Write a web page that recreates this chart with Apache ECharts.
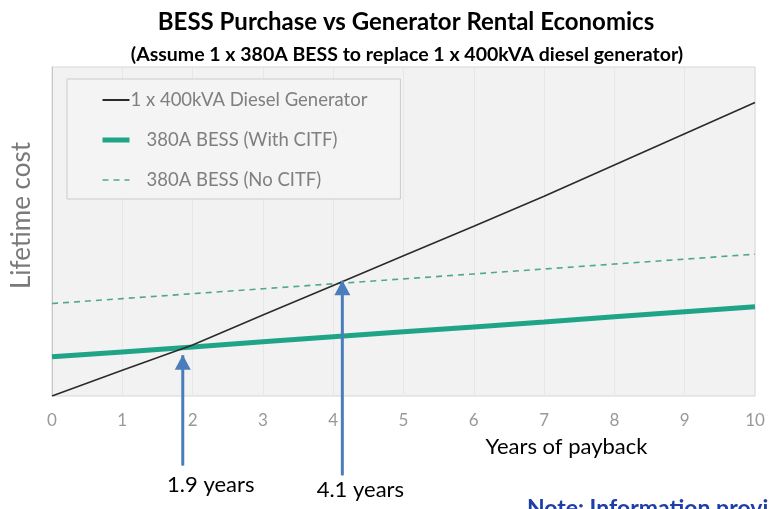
<!DOCTYPE html>
<html>
<head>
<meta charset="utf-8">
<script src="https://cdn.jsdelivr.net/npm/echarts@6/dist/echarts.min.js"></script>
<style>
  html, body { margin: 0; padding: 0; background: #fff; }
  #container { width: 769px; height: 509px; }
</style>
</head>
<body>
<div id="container"></div>
<script>
var dom = document.getElementById("container");
var myChart = echarts.init(dom);

// years of payback (x) and lifetime cost (relative units)
var years = [0, 1, 2, 3, 4, 5, 6, 7, 8, 9, 10];
var dieselCost = [0, 7.8, 15.5, 24.6, 33.6, 42.6, 51.6, 60.7, 70.2, 79.7, 89.2];
var bessCitf = [11.9, 13.4, 14.9, 16.5, 18.0, 19.5, 21.0, 22.5, 24.1, 25.6, 27.1];
var bessNoCitf = [28.1, 29.6, 31.1, 32.6, 34.1, 35.6, 37.1, 38.6, 40.1, 41.6, 43.1];
var seriesNames = ["1 x 400kVA Diesel Generator", "380A BESS (With CITF)", "380A BESS (No CITF)"];

// break-even arrows: x position, arrow tip, arrow tail, label
var arrowX = [1.86, 4.13];
var arrowTip = [12.4, 35.0];
var arrowTail = [-21.1, -24.1];
var arrowLabels = ["1.9 years", "4.1 years"];

function pairs(xs, ys) {
  return xs.map(function (x, i) { return [x, ys[i]]; });
}

var arrowSeries = arrowX.map(function (x, i) {
  return {
    type: "line",
    xAxisIndex: 1,
    yAxisIndex: 1,
    silent: true,
    z: 5,
    lineStyle: { color: "#4a7ebb", width: 3 },
    itemStyle: { color: "#4a7ebb" },
    data: [
      {
        value: [x, arrowTail[i]],
        symbol: "circle",
        symbolSize: 1,
        label: {
          show: true,
          position: "bottom",
          formatter: arrowLabels[i],
          offset: i === 0 ? [28, 0] : [18, -5],
          color: "#000",
          fontSize: 22,
          fontFamily: "Lato",
          distance: 8
        }
      },
      {
        value: [x, arrowTip[i]],
        symbol: "triangle",
        symbolSize: [16, 15],
        symbolOffset: [0, 7]
      }
    ]
  };
});

option = {
  animation: false,
  title: [
    {
      text: "BESS Purchase vs Generator Rental Economics",
      left: 401,
      textAlign: "center",
      top: 3,
      textStyle: {
        fontFamily: "Lato",
        fontWeight: "bold",
        fontSize: 24,
        lineHeight: 28,
        color: "#000"
      }
    },
    {
      text: "(Assume 1 x 380A BESS to replace 1 x 400kVA diesel generator)",
      left: 402,
      textAlign: "center",
      top: 37,
      textStyle: {
        fontFamily: "Lato",
        fontWeight: "bold",
        fontSize: 19.5,
        lineHeight: 26,
        color: "#000"
      }
    },
    {
      text: "Note: Information provided",
      left: 522,
      top: 492,
      textStyle: {
        fontFamily: "Lato",
        fontWeight: "bold",
        fontSize: 23,
        color: "#1f3fa6"
      }
    }
  ],
  legend: {
    orient: "vertical",
    left: 67,
    top: 79,
    padding: [11, 33, 9, 33],
    itemWidth: 27,
    itemHeight: 14,
    itemGap: 20,
    backgroundColor: "#f4f4f4",
    borderColor: "#cbcbcb",
    borderWidth: 1,
    itemStyle: { opacity: 0 },
    textStyle: {
      fontFamily: "Lato",
      fontSize: 18.5,
      lineHeight: 20,
      color: "#7f7f7f"
    },
    data: [
      { name: seriesNames[0], lineStyle: { width: 2 }, textStyle: { padding: [0, 0, 0, -4] } },
      { name: seriesNames[1], lineStyle: { width: 5 }, textStyle: { padding: [0, 0, 0, 12] } },
      { name: seriesNames[2], lineStyle: { width: 1.6 }, textStyle: { padding: [0, 0, 0, 12] } }
    ]
  },
  grid: [
    {
      left: 52,
      right: 14,
      top: 67,
      bottom: 113,
      show: true,
      backgroundColor: "#f2f2f2",
      borderColor: "#d6d6d6",
      borderWidth: 1
    },
    {
      left: 52,
      right: 14,
      top: 67,
      bottom: 14.3,
      show: false
    }
  ],
  xAxis: [
    {
      type: "value",
      gridIndex: 0,
      min: 0,
      max: 10,
      interval: 1,
      axisLine: { show: false },
      axisTick: { show: false },
      splitLine: { show: true, lineStyle: { color: "#e7e7e7", width: 1 } },
      axisLabel: {
        color: "#999999",
        fontSize: 17,
        fontFamily: "Lato",
        margin: 16
      },
      name: "Years of payback",
      nameLocation: "middle",
      nameGap: 40,
      nameTextStyle: {
        fontFamily: "Lato",
        fontSize: 22,
        color: "#000",
        padding: [0, 0, 0, 326]
      }
    },
    {
      type: "value",
      gridIndex: 1,
      min: 0,
      max: 10,
      show: false
    }
  ],
  yAxis: [
    {
      type: "value",
      gridIndex: 0,
      min: 0,
      max: 100,
      axisLine: { show: true, lineStyle: { color: "#c8c8c8" } },
      axisTick: { show: false },
      axisLabel: { show: false },
      splitLine: { show: false },
      name: "Lifetime cost",
      nameLocation: "middle",
      nameGap: 17,
      nameTextStyle: {
        fontFamily: "Lato",
        fontSize: 26,
        color: "#7a7a7a",
        padding: [0, 0, 0, 32]
      }
    },
    {
      type: "value",
      gridIndex: 1,
      min: -30,
      max: 100,
      show: false
    }
  ],
  series: [
    {
      name: seriesNames[0],
      type: "line",
      symbol: "none",
      z: 4,
      lineStyle: { color: "#2b2b2b", width: 1.6 },
      itemStyle: { color: "#2b2b2b" },
      data: pairs(years, dieselCost)
    },
    {
      name: seriesNames[1],
      type: "line",
      symbol: "none",
      z: 3,
      lineStyle: { color: "#1fa487", width: 5 },
      itemStyle: { color: "#1fa487" },
      data: pairs(years, bessCitf)
    },
    {
      name: seriesNames[2],
      type: "line",
      symbol: "none",
      z: 3,
      lineStyle: { color: "#4fa793", width: 1.6, type: [6, 5] },
      itemStyle: { color: "#4fa793" },
      data: pairs(years, bessNoCitf)
    }
  ].concat(arrowSeries)
};

if (option && typeof option === "object") {
  myChart.setOption(option, true);
}
</script>
</body>
</html>
